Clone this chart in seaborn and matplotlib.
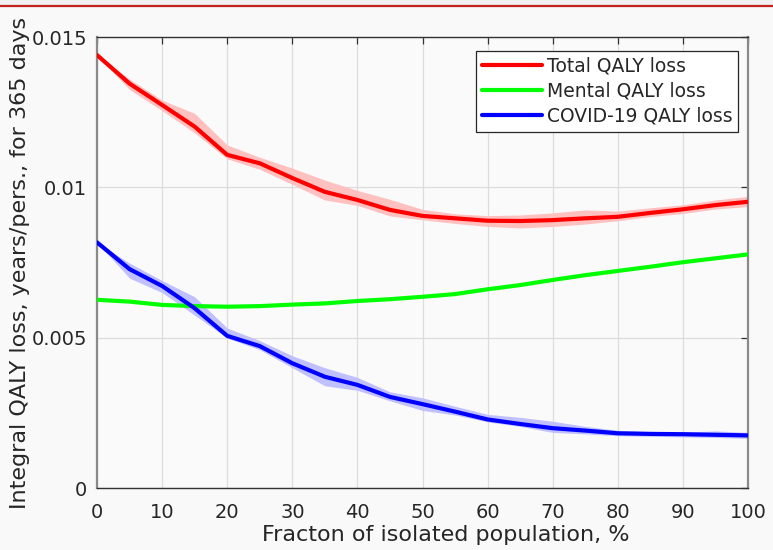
import numpy as np
import pandas as pd
import seaborn as sns
import matplotlib
matplotlib.use("Agg")
import matplotlib.pyplot as plt
from matplotlib.lines import Line2D
from matplotlib.patches import Rectangle

# ---------------- data ----------------
fraction = [0, 5, 10, 15, 20, 25, 30, 35, 40, 45, 50, 55, 60, 65, 70, 75, 80, 85, 90, 95, 100]

total_mean = [0.01440, 0.01345, 0.01274, 0.01202, 0.01108, 0.01080, 0.01031, 0.00985, 0.00958, 0.00925,
              0.00905, 0.00897, 0.00889, 0.00888, 0.00891, 0.00897, 0.00902, 0.00915, 0.00927, 0.00941, 0.00952]
total_lo = [0.01440, 0.01325, 0.01255, 0.01181, 0.01095, 0.01060, 0.01010, 0.00958, 0.00940, 0.00905,
            0.00892, 0.00880, 0.00870, 0.00865, 0.00870, 0.00878, 0.00889, 0.00903, 0.00913, 0.00928, 0.00936]
total_hi = [0.01440, 0.01360, 0.01290, 0.01246, 0.01141, 0.01100, 0.01064, 0.01024, 0.00990, 0.00960,
            0.00927, 0.00912, 0.00906, 0.00908, 0.00915, 0.00925, 0.00921, 0.00932, 0.00942, 0.00958, 0.00970]

mental_mean = [0.00626, 0.00620, 0.00609, 0.00605, 0.00603, 0.00605, 0.00610, 0.00614, 0.00622, 0.00628,
               0.00636, 0.00645, 0.00661, 0.00675, 0.00692, 0.00708, 0.00722, 0.00736, 0.00751, 0.00764, 0.00777]

covid_mean = [0.00817, 0.00728, 0.00672, 0.00598, 0.00506, 0.00472, 0.00415, 0.00370, 0.00343, 0.00303,
              0.00279, 0.00254, 0.00228, 0.00213, 0.00199, 0.00191, 0.00182, 0.00180, 0.00179, 0.00177, 0.00175]
covid_lo = [0.00817, 0.00698, 0.00650, 0.00575, 0.00499, 0.00460, 0.00400, 0.00340, 0.00325, 0.00290,
            0.00258, 0.00243, 0.00220, 0.00205, 0.00185, 0.00180, 0.00174, 0.00172, 0.00170, 0.00168, 0.00165]
covid_hi = [0.00817, 0.00748, 0.00690, 0.00636, 0.00532, 0.00490, 0.00440, 0.00400, 0.00368, 0.00320,
            0.00300, 0.00272, 0.00245, 0.00235, 0.00222, 0.00205, 0.00192, 0.00188, 0.00186, 0.00190, 0.00185]

series_names = ["Total QALY loss", "Mental QALY loss", "COVID-19 QALY loss"]
series_colors = ["#ff0000", "#00ff00", "#0000ff"]
x_ticks = [0, 10, 20, 30, 40, 50, 60, 70, 80, 90, 100]
y_ticks = [0, 0.005, 0.01, 0.015]
y_tick_labels = ["0", "0.005", "0.01", "0.015"]

df = pd.DataFrame({
    "fraction": fraction * 3,
    "value": total_mean + mental_mean + covid_mean,
    "series": [series_names[0]] * len(fraction) + [series_names[1]] * len(fraction) + [series_names[2]] * len(fraction),
})

# ---------------- style ----------------
sns.set_style("white")
plt.rcParams["font.family"] = ["DejaVu Sans"]

fig = plt.figure(figsize=(7.73, 5.5), dpi=100, facecolor="#f9f9f9")
fig.add_artist(Rectangle((0, 0.99), 1, 0.01, transform=fig.transFigure, facecolor="#f0f0f0", edgecolor="none"))
fig.add_artist(Line2D([0, 1], [0.9895, 0.9895], transform=fig.transFigure, color="#c42020", lw=1.6))

ax = fig.add_axes([0.1255, 0.1127, 0.8422, 0.82])
ax.set_facecolor("#fafafa")

ax.fill_between(fraction, total_lo, total_hi, color="#ffc0c0", lw=0, zorder=1)
ax.fill_between(fraction, covid_lo, covid_hi, color="#c0c0ff", lw=0, zorder=1)

sns.lineplot(data=df, x="fraction", y="value", hue="series", palette=series_colors,
             hue_order=series_names, linewidth=3, ax=ax, zorder=3, legend=False)

ax.set_xlim(0, 100)
ax.set_ylim(0, 0.015)
ax.set_xticks(x_ticks)
ax.set_xticklabels([str(t) for t in x_ticks])
ax.set_yticks(y_ticks)
ax.set_yticklabels(y_tick_labels)
ax.grid(True, color="#dcdcdc", lw=0.9)
ax.set_axisbelow(True)

for s in ["bottom", "top"]:
    ax.spines[s].set_color("#333333")
    ax.spines[s].set_linewidth(1.0)
for s in ["left", "right"]:
    ax.spines[s].set_color("#8a8a8a")
    ax.spines[s].set_linewidth(1.6)
    ax.spines[s].set_visible(True)
ax.spines["top"].set_visible(True)

ax.tick_params(axis="both", direction="in", length=5, width=0.9, color="#333333",
               labelsize=14, labelcolor="#262626", top=True, right=True)
ax.tick_params(axis="x", pad=11)
ax.tick_params(axis="y", pad=7)

ax.set_xlabel("Fracton of isolated population, %", fontsize=16, color="#262626")
ax.set_ylabel("Integral QALY loss, years/pers., for 365 days", fontsize=16, color="#262626")
ax.xaxis.set_label_coords(0.535, -0.081)
ax.yaxis.set_label_coords(-0.103, 0.5)

handles = [Line2D([0], [0], color=c, lw=3) for c in series_colors]
leg = ax.legend(handles, series_names, loc="upper right", bbox_to_anchor=(0.985, 0.969),
                fontsize=13.5, frameon=True, fancybox=False, framealpha=1, edgecolor="#262626",
                handlelength=3.2, handletextpad=0.28, borderpad=0.3, labelspacing=0.33, borderaxespad=0)
leg.get_frame().set_linewidth(0.9)

fig.savefig("out.png", dpi=100, facecolor=fig.get_facecolor())
